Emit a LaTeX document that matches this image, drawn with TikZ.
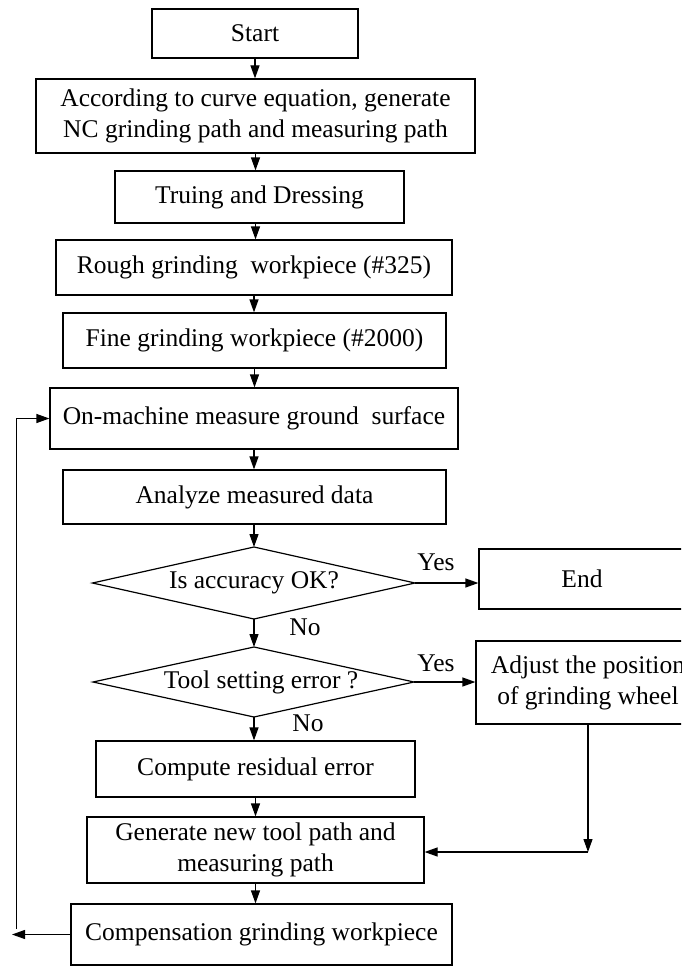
\documentclass[tikz,border=0pt]{standalone}
\usepackage{fontspec}
\setmainfont{Liberation Serif}
\usetikzlibrary{arrows.meta}
\begin{document}
\begin{tikzpicture}[x=1pt,y=-1pt,
 box/.style={draw, line width=1.2pt, inner sep=0pt, align=center, font=\fontsize{25.5}{31}\selectfont},
 lbl/.style={inner sep=0pt, font=\fontsize{25.5}{31}\selectfont},
 arr/.style={-{Triangle[length=13pt,width=9pt]}, line width=1.2pt},
 ln/.style={line width=1.2pt}]
\useasboundingbox (0,0) rectangle (681,966);
\clip (0,0) rectangle (681,966);
% process boxes
\node[box, minimum width=206pt, minimum height=49pt] (start) at (255,33.5) {Start};
\node[box, minimum width=439pt, minimum height=74pt] (acc) at (255.5,116) {According to curve equation, generate\\NC grinding path and measuring path};
\node[box, minimum width=289pt, minimum height=52pt] (tru) at (259.5,197) {Truing and Dressing};
\node[box, minimum width=396pt, minimum height=55pt] (rough) at (254,267.5) {Rough grinding\ \ workpiece (\#325)};
\node[box, minimum width=383pt, minimum height=55pt] (fine) at (254.5,340.5) {Fine grinding workpiece (\#2000)};
\node[box, minimum width=408pt, minimum height=61pt] (onm) at (254,418.5) {On-machine measure ground\ \ surface};
\node[box, minimum width=383pt, minimum height=54pt] (ana) at (254.5,497) {Analyze measured data};
% decision 1
\node[lbl] (d1) at (254,583) {Is accuracy OK?};
\coordinate (d1n) at (254,547);
\coordinate (d1s) at (254,619);
\coordinate (d1e) at (415,583);
\coordinate (d1w) at (92.5,583);
\draw[ln] (d1n) -- (d1e) -- (d1s) -- (d1w) -- cycle;
\node[box, minimum width=206pt, minimum height=60pt] (end) at (582,579) {End};
% decision 2
\node[lbl] (d2) at (261,682) {Tool setting error ?};
\coordinate (d2n) at (254,647);
\coordinate (d2s) at (254,717);
\coordinate (d2e) at (414,682);
\coordinate (d2w) at (93,682);
\draw[ln] (d2n) -- (d2e) -- (d2s) -- (d2w) -- cycle;
\node[box, minimum width=224pt, minimum height=83pt] (adj) at (588,682.5) {Adjust the position\\of grinding wheel};
\node[box, minimum width=319pt, minimum height=56pt] (cmp) at (255.5,769) {Compute residual error};
\node[box, minimum width=337pt, minimum height=66pt] (gen) at (255.5,850) {Generate new tool path and\\measuring path};
\node[box, minimum width=381pt, minimum height=61pt] (comp) at (261.5,934.5) {Compensation grinding workpiece};
% labels
\node[lbl] (yes1) at (436,562) {Yes};
\node[lbl] (no1) at (305,627) {No};
\node[lbl] (yes2) at (436,663) {Yes};
\node[lbl] (no2) at (308,723) {No};
% connectors
\draw[arr] (start.south) -- (start.south |- acc.north);
\draw[arr] (acc.south) -- (acc.south |- tru.north);
\draw[arr] (acc.south |- tru.south) -- (acc.south |- rough.north);
\draw[arr] (rough.south) -- (rough.south |- fine.north);
\draw[arr] (fine.south) -- (fine.south |- onm.north);
\draw[arr] (onm.south) -- (onm.south |- ana.north);
\draw[arr] (d1n |- ana.south) -- (d1n);
\draw[arr] (d1e) -- (d1e -| end.west);
\draw[arr] (d1s) -- (d2n);
\draw[arr] (d2e) -- (d2e -| adj.west);
\draw[arr] (d2s) -- (d2s |- cmp.north);
\draw[arr] (cmp.south) -- (cmp.south |- gen.north);
\draw[arr] (cmp.south |- gen.south) -- (cmp.south |- comp.north);
\coordinate (adjc) at (588,852);
\draw[arr] (adj.south) -- (adjc);
\draw[arr] (adjc) -- (adjc -| gen.east);
% feedback loop
\coordinate (fbtip) at (12,934.5);
\coordinate (fbbot) at (16.5,929);
\draw[arr] (comp.west) -- (fbtip);
\draw[arr] (fbbot) |- (onm.west);
\end{tikzpicture}
\end{document}
